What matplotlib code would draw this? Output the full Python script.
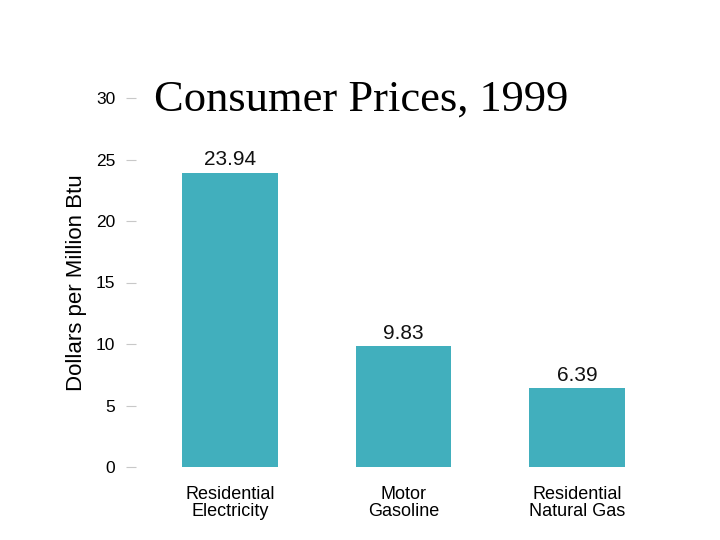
import matplotlib.pyplot as plt

categories = ["Residential\nElectricity", "Motor\nGasoline", "Residential\nNatural Gas"]
prices = [23.94, 9.83, 6.39]
yticks = [0, 5, 10, 15, 20, 25, 30]

bar_color = "#41afbd"

fig = plt.figure(figsize=(7.2, 5.4), dpi=100)
# axes placed in pixels of the 720x540 canvas
ax = fig.add_axes([136 / 720, 73 / 540, 524 / 720, 369 / 540])

x = list(range(len(categories)))
ax.bar(x, prices, width=0.55, color=bar_color)

for xi, v in zip(x, prices):
    ax.text(xi, v + 0.25, f"{v:.2f}", ha="center", va="bottom",
            fontsize=15, family="Liberation Sans", color="#111111")

ax.set_xlim(-0.542, 2.478)
ax.set_ylim(0, 30)
ax.set_yticks(yticks)
ax.set_yticklabels([str(t) for t in yticks], family="Liberation Sans", fontsize=12.5)
ax.set_xticks(x)
ax.set_xticklabels(categories, family="Liberation Sans", fontsize=13, linespacing=1.0)

ax.tick_params(axis="y", length=7, width=0.8, color="#c8c8c8", pad=8)
ax.tick_params(axis="x", length=0, pad=14)
for s in ax.spines.values():
    s.set_visible(False)

ax.set_ylabel("Dollars per Million Btu", family="Liberation Sans", fontsize=16, labelpad=6)

fig.text(361 / 720, 1 - 100 / 540, "Consumer Prices, 1999", ha="center", va="center",
         family="Liberation Serif", fontsize=32)

fig.savefig("out.png", dpi=100)
